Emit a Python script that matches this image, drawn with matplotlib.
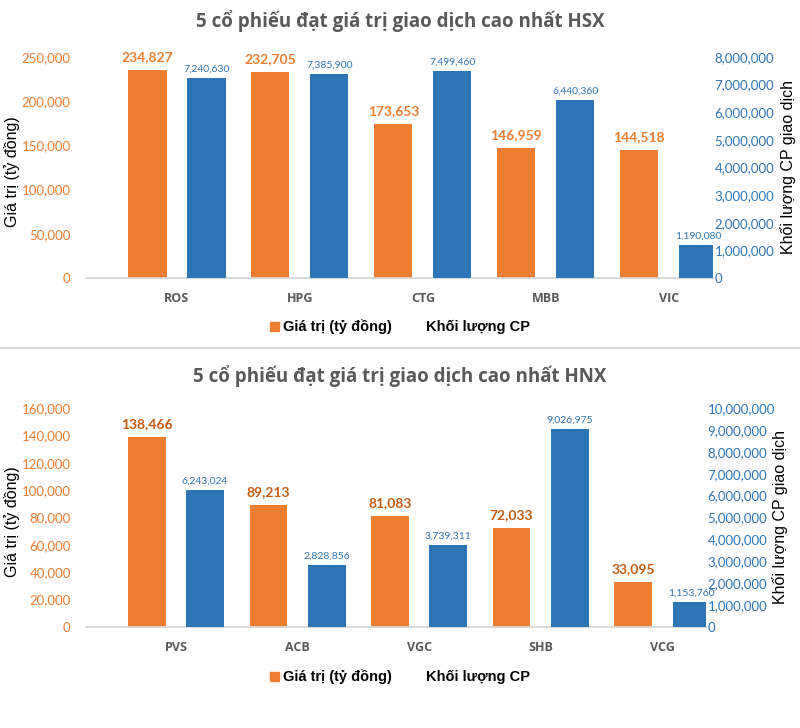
import matplotlib.pyplot as plt
from matplotlib.lines import Line2D
from matplotlib.patches import Rectangle

# HSX panel
hsx_codes = ["ROS", "HPG", "CTG", "MBB", "VIC"]
hsx_value = [234827, 232705, 173653, 146959, 144518]
hsx_volume = [7240630, 7385900, 7499460, 6440360, 1190080]

# HNX panel
hnx_codes = ["PVS", "ACB", "VGC", "SHB", "VCG"]
hnx_value = [138466, 89213, 81083, 72033, 33095]
hnx_volume = [6243024, 2828856, 3739311, 9026975, 1153760]

ORANGE = "#ED7D31"
BLUE = "#2E75B6"
GRAY = "#595959"

W, H = 800, 728


def px_axes(fig, x0, x1, y_top, y_bot):
    return fig.add_axes([x0 / W, 1 - y_bot / H, (x1 - x0) / W, (y_bot - y_top) / H])


def draw_panel(fig, ax, codes, values, volumes, vmax, vstep, qmax, qstep,
               title, title_y, legend_y, value_label_color):
    ax2 = ax.twinx()
    x = list(range(len(codes)))
    bw = 0.31
    off = 0.24
    ax.bar([i - off for i in x], values, bw, color=ORANGE, zorder=3)
    ax2.bar([i + off for i in x], volumes, bw, color=BLUE, zorder=3)

    ax.set_xlim(-0.74, len(codes) - 0.64)
    ax.set_ylim(0, vmax)
    ax2.set_ylim(0, qmax)
    ax.set_yticks(range(0, vmax + 1, vstep))
    ax2.set_yticks(range(0, qmax + 1, qstep))
    ax.set_yticklabels([f"{v:,}" for v in range(0, vmax + 1, vstep)],
                       color=ORANGE, fontsize=9.5, family="Lato")
    ax2.set_yticklabels([f"{v:,}" for v in range(0, qmax + 1, qstep)],
                        color=BLUE, fontsize=9.5, family="Lato")
    ax.set_xticks(x)
    ax.set_xticklabels(codes, color=GRAY, fontsize=9, fontweight="bold", family="Open Sans")
    ax.tick_params(axis="x", length=0, pad=10)
    ax.tick_params(axis="y", length=0, pad=11)
    ax2.tick_params(axis="y", length=0, pad=1)

    for a in (ax, ax2):
        for s in ("top", "right", "left"):
            a.spines[s].set_visible(False)
        a.spines["bottom"].set_color("#D9D9D9")
        a.spines["bottom"].set_linewidth(1.2)
        a.patch.set_visible(False)

    ax.set_ylabel("Giá trị (tỷ đồng)", fontsize=11.5, family="Liberation Sans")
    ax2.set_ylabel("Khối lượng CP giao dịch", fontsize=11.5, family="Liberation Sans")
    ax.yaxis.set_label_coords(-0.106, 0.48)
    ax2.yaxis.set_label_coords(1.107, 0.5)

    for i, v in enumerate(values):
        ax.annotate(f"{v:,}", (i - off, v), xytext=(0, 5), textcoords="offset points",
                    ha="center", va="bottom", color=value_label_color,
                    fontsize=10, fontweight="bold", family="Lato")
    for i, v in enumerate(volumes):
        ax2.annotate(f"{v:,}", (i + off, v), xytext=(0, 3), textcoords="offset points",
                     ha="center", va="bottom", color=BLUE, fontsize=7.5, family="Lato")

    fig.text(0.5, 1 - title_y / H, title, ha="center", va="center",
             fontsize=13.5, fontweight="bold", color=GRAY, family="Open Sans")

    handles = [Rectangle((0, 0), 1, 1, color=ORANGE),
               Rectangle((0, 0), 1, 1, facecolor="none", edgecolor="none")]
    fig.legend(handles, ["Giá trị (tỷ đồng)", "Khối lượng CP"], loc="center",
               bbox_to_anchor=(0.5, 1 - legend_y / H), ncol=2, frameon=False,
               handlelength=0.6, handleheight=0.6, handletextpad=0.25, columnspacing=1.5,
               prop={"family": "Liberation Sans", "weight": "bold", "size": 10.5})


fig = plt.figure(figsize=(W / 100, H / 100), dpi=100)

ax_top = px_axes(fig, 86, 713, 57, 278)
draw_panel(fig, ax_top, hsx_codes, hsx_value, hsx_volume, 250000, 50000, 8000000, 1000000,
           "5 cổ phiếu đạt giá trị giao dịch cao nhất HSX", 21, 327, ORANGE)

ax_bot = px_axes(fig, 86, 706, 408, 627)
draw_panel(fig, ax_bot, hnx_codes, hnx_value, hnx_volume, 160000, 20000, 10000000, 1000000,
           "5 cổ phiếu đạt giá trị giao dịch cao nhất HNX", 376, 677, "#C55A11")

fig.add_artist(Line2D([0, 1], [1 - 348 / H, 1 - 348 / H], color="#D9D9D9", linewidth=1.5))

fig.savefig("out.png", dpi=100)
